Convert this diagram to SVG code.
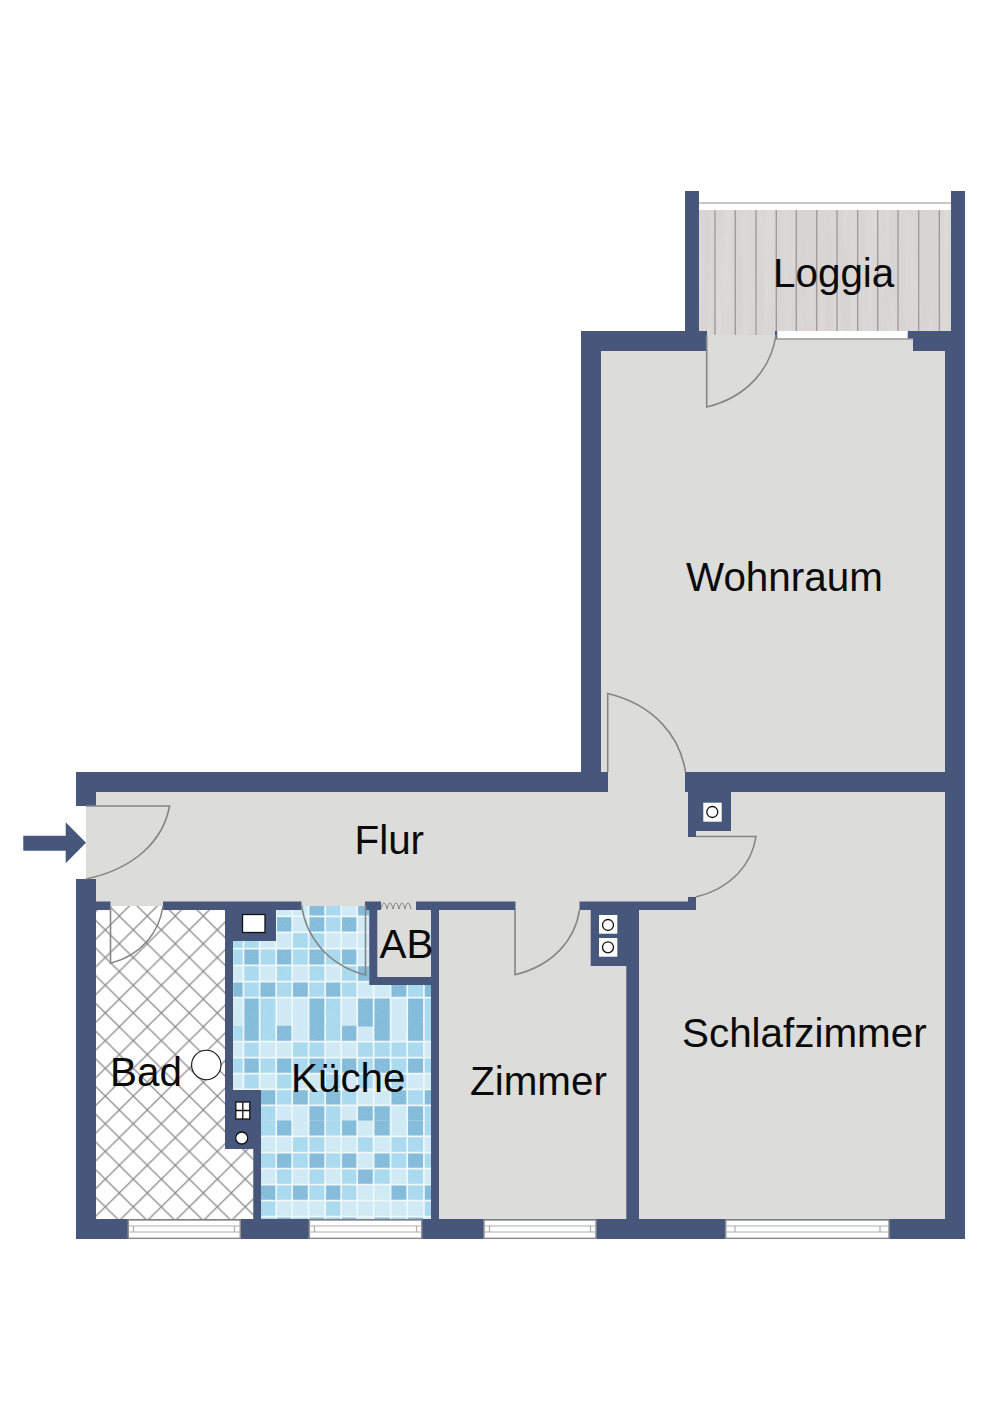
<svg xmlns="http://www.w3.org/2000/svg" width="1000" height="1415" viewBox="0 0 1000 1415">
<style>
.wall{fill:#46577b}
.floor{fill:#dcdcda}
.door{fill:none;stroke:#858585;stroke-width:1.6}
.win{fill:#fff;stroke:#8f8f8f;stroke-width:1.5}
.winin{fill:none;stroke:#aeaeae;stroke-width:1.2}
.d,.d2{fill:none;stroke:#82bbda}
.m,.m2{fill:none;stroke:#a8d9ee}
.d,.m{stroke-width:16.2}
.d2,.m2{stroke-width:15}
.gr{fill:none;stroke:#eef8fb;stroke-width:1.7}
.plank{stroke:#9d9899;stroke-width:1.3}
.box{fill:#fff;stroke:#111;stroke-width:1.3}
.lbl{font-family:"Liberation Sans",Arial,sans-serif;font-size:40.4px;fill:#0a0a0a}
</style>
<defs>
<pattern id="lattice" patternUnits="userSpaceOnUse" x="119.3" y="916" width="28" height="27.7">
<path d="M0 0L28 27.7M28 0L0 27.7" fill="none" stroke="#8a8a8a" stroke-width="1.25"/>
</pattern>
<clipPath id="kc"><path d="M233 906H369.3V985H431V1219H261V1090H233Z"/></clipPath>
<filter id="grain" x="0" y="0" width="100%" height="100%">
<feTurbulence type="fractalNoise" baseFrequency="0.12 0.006" numOctaves="2" seed="4"/>
<feColorMatrix values="0 0 0 0 1 0 0 0 0 1 0 0 0 0 1 1.4 0 0 0 -0.55"/>
</filter>
<filter id="speck" x="0" y="0" width="100%" height="100%">
<feTurbulence type="fractalNoise" baseFrequency="0.9" numOctaves="1" seed="7"/>
<feColorMatrix values="0 0 0 0 1 0 0 0 0 1 0 0 0 0 1 1.2 0 0 0 -0.5"/>
</filter>
</defs>
<rect width="1000" height="1415" fill="#fff"/>

<g id="floors">
<rect class="floor" x="601" y="335" width="344" height="437"/>
<rect class="floor" x="601" y="772" width="84" height="30"/>
<rect class="floor" x="96" y="792" width="849" height="427"/>
<rect class="floor" x="86" y="806" width="10" height="73"/>
</g>

<g id="loggia">
<rect x="699" y="210" width="252" height="121" fill="#d8d4d4"/>
<rect x="699" y="331" width="77" height="4" fill="#d8d4d4"/>
<rect x="699" y="210" width="252" height="125" fill="#fff" filter="url(#grain)" opacity=".28"/>
<path class="plank" d="M715 210V335M735.3 210V335M756 210V335M776.3 210V331M796.3 210V331M816.7 210V331M837 210V331M857.7 210V331M877.7 210V331M898 210V331M918.7 210V331M939.3 210V331"/>
<path d="M699 203H951" stroke="#b5b5b5" stroke-width="1.6"/>
</g>

<g id="bad">
<rect x="96" y="906" width="157.3" height="313" fill="#fff"/>
<rect x="96" y="906" width="157.3" height="313" fill="url(#lattice)"/>
<circle cx="206.3" cy="1065" r="14.7" fill="#fff" stroke="#111" stroke-width="1.1"/>
</g>

<g id="kueche" clip-path="url(#kc)">
<rect x="233" y="900" width="198" height="325" fill="#cfeaf5"/>
<path class="m" d="M325.2 908.2h16M325.2 924.35h16
M233.3 940.5h10.2M243.5 940.5h16.1M292.2 940.5h16.4M308.6 940.5h16.6
M233.3 957h10.2M259.6 957h16.6M292.2 957h16.4M325.2 957h16
M243.5 973.5h16.1M276.2 973.5h16M308.6 973.5h16.6M341.2 973.5h16
M243.5 989.6h16.1M276.2 989.6h16M308.6 989.6h16.6M341.2 989.6h16M407.2 989.6h16.7
M233.3 1033.9h10.2M259.6 1033.9h16.6M325.2 1033.9h16M423.9 1033.9h7.1
M243.5 1049.6h16.1M292.2 1049.6h16.4M308.6 1049.6h16.6M357.2 1049.6h16.4M373.6 1049.6h17M390.6 1049.6h16.6M407.2 1049.6h16.7
M233.3 1065.6h10.2M259.6 1065.6h16.6M292.2 1065.6h16.4M325.2 1065.6h16M357.2 1065.6h16.4M390.6 1065.6h16.6M423.9 1065.6h7.1
M243.5 1081.5h16.1M276.2 1081.5h16M325.2 1081.5h16M357.2 1081.5h16.4M390.6 1081.5h16.6
M276.2 1097.4h16M308.6 1097.4h16.6M341.2 1097.4h16M407.2 1097.4h16.7
M259.6 1128.5h16.6M325.2 1128.5h16M423.9 1128.5h7.1
M292.2 1144.5h16.4M308.6 1144.5h16.6M357.2 1144.5h16.4M390.6 1144.5h16.6M407.2 1144.5h16.7
M259.6 1160.6h16.6M292.2 1160.6h16.4M325.2 1160.6h16M390.6 1160.6h16.6M423.9 1160.6h7.1
M276.2 1176.6h16M308.6 1176.6h16.6M341.2 1176.6h16M373.6 1176.6h17M407.2 1176.6h16.7
M276.2 1192.6h16M308.6 1192.6h16.6M341.2 1192.6h16M407.2 1192.6h16.7
M259.6 1208.6h16.6M325.2 1208.6h16M423.9 1208.6h7.1
M259.6 1224.7h16.6M292.2 1224.7h16.4M325.2 1224.7h16M390.6 1224.7h16.6"/>
<path class="m2" d="M259.6 1004.9h16.6M325.2 1004.9h16M423.9 1004.9h7.1
M259.6 1019h16.6M325.2 1019h16M423.9 1019h7.1
M259.6 1113h16.6M325.2 1113h16M423.9 1113h7.1"/>
<path class="d" d="M308.6 908.2h16.6M357.2 908.2h16.4
M276.2 924.35h16M308.6 924.35h16.6M341.2 924.35h16
M243.5 957h16.1M276.2 957h16M308.6 957h16.6M341.2 957h16
M357.2 973.5h16.4
M233.3 989.6h10.2M259.6 989.6h16.6M292.2 989.6h16.4M325.2 989.6h16M390.6 989.6h16.6M423.9 989.6h7.1
M243.5 1033.9h16.1M276.2 1033.9h16M308.6 1033.9h16.6M341.2 1033.9h16M373.6 1033.9h17M407.2 1033.9h16.7
M243.5 1065.6h16.1M276.2 1065.6h16M308.6 1065.6h16.6M341.2 1065.6h16M373.6 1065.6h17M407.2 1065.6h16.7
M259.6 1097.4h16.6M292.2 1097.4h16.4M325.2 1097.4h16M390.6 1097.4h16.6M423.9 1097.4h7.1
M276.2 1128.5h16M308.6 1128.5h16.6M341.2 1128.5h16M373.6 1128.5h17M407.2 1128.5h16.7
M276.2 1160.6h16M308.6 1160.6h16.6M341.2 1160.6h16M373.6 1160.6h17M407.2 1160.6h16.7
M357.2 1176.6h16.4
M259.6 1192.6h16.6M292.2 1192.6h16.4M325.2 1192.6h16M390.6 1192.6h16.6M423.9 1192.6h7.1
M276.2 1224.7h16M308.6 1224.7h16.6M341.2 1224.7h16M373.6 1224.7h17M407.2 1224.7h16.7"/>
<path class="d2" d="M243.5 1004.9h16.1M308.6 1004.9h16.6M357.2 1004.9h16.4M373.6 1004.9h17M407.2 1004.9h16.7
M243.5 1019h16.1M308.6 1019h16.6M357.2 1019h16.4M373.6 1019h17M407.2 1019h16.7
M308.6 1113h16.6M357.2 1113h16.4M373.6 1113h17M407.2 1113h16.7"/>
<rect x="233" y="900" width="198" height="325" fill="#fff" filter="url(#speck)" opacity=".28"/>
<path class="gr" d="M243.5 900V1225M259.6 900V1225M276.2 900V1225M292.2 900V1225M308.6 900V1225M325.2 900V1225M341.2 900V1225M357.2 900V1225M373.6 900V1225M390.6 900V1225M407.2 900V1225M423.9 900V1225
M233 916.3H431M233 932.4H431M233 948.6H431M233 965.3H431M233 981.7H431M233 997.6H431M233 1041.7H431M233 1057.6H431M233 1073.6H431M233 1089.4H431M233 1105.4H431M233 1136.4H431M233 1152.6H431M233 1168.6H431M233 1184.6H431M233 1200.6H431M233 1216.6H431"/>
</g>

<g id="walls">
<path class="wall" d="M685 191H699V331H685ZM951 191H965V1239H951Z
M581 331H707V351H581ZM581 331H601V792H581ZM76 772H608V792H76Z
M76 772H96V806H76ZM76 879H96V1239H76ZM76 1219H965V1239H76Z
M945 339H965V1239H945ZM907.5 331H965V339H907.5ZM913 339H965V351H913ZM775 331H777.5V339H775Z
M685 772H965V792H685ZM688 792H731V831H688ZM688 831H696V837H688ZM688 897H696V910H688Z
M579.5 901.5H696V910H579.5ZM590.7 910H639V966H590.7ZM626.3 966H639V1219H626.3Z
M416 901.5H515.5V910H416ZM365 901.5H381V910H365ZM369.3 910H377.3V985H369.3ZM369.3 977H439V985H369.3ZM431 901.5H439V1219H431Z
M163 901.5H301.5V910H163ZM76 901.5H110.5V910H76ZM225 910H276V941H225ZM225 941H233V1090H225ZM225 1090H261V1149H225ZM253.3 1149H261V1219H253.3Z"/>
</g>

<g id="windows">
<rect x="777.5" y="331" width="130" height="7.6" fill="#fff"/>
<path d="M776 339H913" stroke="#9a9a9a" stroke-width="1.3"/>
<rect class="win" x="128.3" y="1220" width="112" height="18.3"/>
<path class="winin" d="M128.3 1226H240M128.3 1232H240M133.5 1226V1232M234.5 1226V1232"/>
<rect class="win" x="309.3" y="1220" width="112.4" height="18.3"/>
<path class="winin" d="M309.3 1226H421.7M309.3 1232H421.7M314.5 1226V1232M416.5 1226V1232"/>
<rect class="win" x="484" y="1220" width="112" height="18.3"/>
<path class="winin" d="M484 1226H596M484 1232H596M489.5 1226V1232M590.5 1226V1232"/>
<rect class="win" x="725.7" y="1220" width="163.3" height="18.3"/>
<path class="winin" d="M725.7 1226H889M725.7 1232H889M735 1226V1232M880 1226V1232"/>
</g>

<g id="doors">
<path class="door" d="M776 335C771 368 748 397 706.7 407V335"/>
<path class="door" d="M607.7 772V693.5C653.6 704.5 680 736 685.5 772"/>
<path class="door" d="M86 879C135.3 868.8 163.6 839.6 169.5 806H86"/>
<path class="door" d="M696 836.5H756C751.8 864.3 731.3 888.5 695.7 897"/>
<path class="door" d="M515 910V974.7C553 965.6 575 939.8 579.5 910"/>
<path class="door" d="M365.5 905V975C327.7 965 306 937 301.5 905"/>
<path class="door" d="M110.5 906V963.3C141.5 955.3 159.3 932.4 163 906"/>
<path d="M381 909c2 -8 4 -8 6 0c2 -8 4 -8 6 0c2 -8 4 -8 6 0c2 -8 4 -8 6 0c2 -8 4 -8 6 0" fill="none" stroke="#777" stroke-width="1"/>
</g>

<g id="fixtures">
<rect class="box" x="242.5" y="914.5" width="22.5" height="18"/>
<rect x="703.3" y="802.7" width="18.4" height="19" fill="#fff"/>
<circle cx="712.3" cy="812" r="5.5" fill="none" stroke="#111" stroke-width="1.3"/>
<rect x="599" y="915" width="18.3" height="18.7" fill="#fff"/>
<circle cx="608" cy="925" r="5.5" fill="none" stroke="#111" stroke-width="1.3"/>
<rect x="599" y="938" width="18.3" height="18.7" fill="#fff"/>
<circle cx="608" cy="947.3" r="5.5" fill="none" stroke="#111" stroke-width="1.3"/>
<rect class="box" x="235.8" y="1102" width="14" height="17"/>
<path d="M242.8 1102V1119M235.8 1110.5H249.8" stroke="#111" stroke-width="1.3"/>
<circle class="box" cx="241.7" cy="1138" r="6"/>
</g>

<g id="entry">
<path class="wall" d="M23.3 835.7H65.7V822.3L86 842.7L65.7 863.3V850.7H23.3Z"/>
</g>

<g id="labels">
<text class="lbl" x="773" y="287">Loggia</text>
<text class="lbl" x="686" y="591">Wohnraum</text>
<text class="lbl" x="354.500" y="853.500">Flur</text>
<text class="lbl" x="379.500" y="957.500">AB</text>
<text class="lbl" x="110" y="1086">Bad</text>
<text class="lbl" x="291" y="1092">Küche</text>
<text class="lbl" x="470" y="1095">Zimmer</text>
<text class="lbl" x="682" y="1047">Schlafzimmer</text>
</g>
</svg>
